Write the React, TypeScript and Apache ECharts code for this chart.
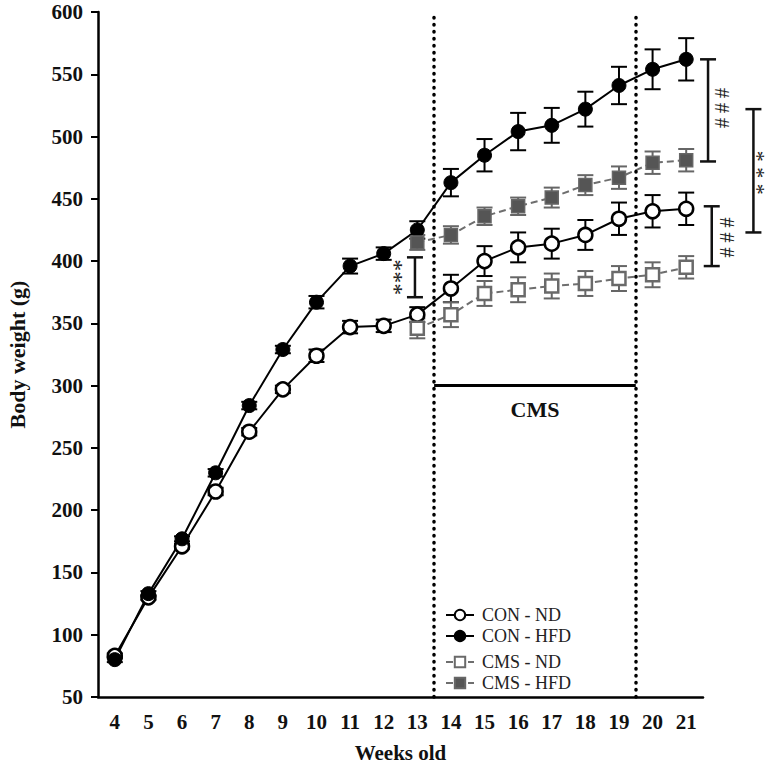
import React, { useEffect, useRef } from "react";
import * as echarts from "echarts";

const weeks = [4, 5, 6, 7, 8, 9, 10, 11, 12, 13, 14, 15, 16, 17, 18, 19, 20, 21];
const weekLabels = weeks.map(String);

const conND = [83, 130, 171, 215, 263, 297, 324, 347, 348, 357, 378, 400, 411, 414, 421, 434, 440, 442];
const conNDErr = [2, 2, 2, 3, 3, 3, 5, 5, 5, 6, 11, 12, 12, 12, 12, 13, 13, 13];
const conHFD = [80, 133, 177, 230, 284, 329, 367, 396, 406, 425, 463, 485, 504, 509, 522, 541, 554, 562];
const conHFDErr = [2, 2, 2, 3, 3, 3, 5, 6, 5, 7, 11, 13, 15, 14, 14, 15, 16, 17];

const cmsWeeks = [13, 14, 15, 16, 17, 18, 19, 20, 21];
const cmsND = [346, 357, 374, 377, 380, 382, 386, 389, 395];
const cmsNDErr = [8, 10, 10, 10, 10, 10, 10, 10, 9];
const cmsHFD = [415, 421, 436, 444, 451, 461, 467, 479, 481];
const cmsHFDErr = [6, 7, 7, 7, 8, 8, 9, 9, 9];

const yTicks = { min: 50, max: 600, interval: 50 };
const cmsStart = 13.5;
const cmsEnd = 19.5;
const cmsBarValue = 300;

// significance brackets (data coordinates)
const brackets = [
  { x: 21.65, lo: 480, hi: 562, text: "# # #", tx: 22.07, ty: 523, size: 20 },
  { x: 23.0, lo: 423, hi: 522, text: "* * *", tx: 23.13, ty: 471, size: 22 },
  { x: 21.76, lo: 396, hi: 444, text: "# # #", tx: 22.21, ty: 419, size: 20 },
  { x: 12.93, lo: 371, hi: 403, text: "***", tx: 12.34, ty: 387, size: 24 },
];
const cmsLabel = { x: 16.5, y: 281, text: "CMS" };

const FONT = "Liberation Serif";

function App() {
  const ref = useRef<HTMLDivElement>(null);
  useEffect(() => {
    if (!ref.current) return;
    const chart = echarts.init(ref.current, null, { renderer: "svg" });

    const pair = (xs: number[], ys: number[]) => xs.map((x, i) => [x, ys[i]]);
    const triple = (xs: number[], ys: number[], es: number[]) => xs.map((x, i) => [x, ys[i], es[i]]);

    const errSeries = (name: string, data: number[][], color: string) => ({
      type: "custom",
      name: name + "-err",
      xAxisIndex: 1,
      z: 1,
      silent: true,
      data,
      encode: { x: 0, y: 1 },
      renderItem: (params: any, api: any) => {
        const x = api.value(0);
        const y = api.value(1);
        const e = api.value(2);
        const p1 = api.coord([x, y + e]);
        const p2 = api.coord([x, y - e]);
        const hw = 8;
        const st = { stroke: color, lineWidth: 2 };
        return {
          type: "group",
          children: [
            { type: "line", shape: { x1: p1[0], y1: p1[1], x2: p2[0], y2: p2[1] }, style: st },
            { type: "line", shape: { x1: p1[0] - hw, y1: p1[1], x2: p1[0] + hw, y2: p1[1] }, style: st },
            { type: "line", shape: { x1: p2[0] - hw, y1: p2[1], x2: p2[0] + hw, y2: p2[1] }, style: st },
          ],
        };
      },
    });

    const legendCommon = {
      orient: "vertical",
      left: 440,
      itemGap: 3,
      itemWidth: 28,
      itemHeight: 13,
      textStyle: { fontFamily: FONT, fontSize: 18, color: "#222", padding: [0, 0, 0, 3] },
      selectedMode: false,
    };

    const option: any = {
      animation: false,
      backgroundColor: "#fff",
      grid: { left: 98, right: 67, top: 12, bottom: 69, containLabel: false, outerBoundsMode: "none" },
      legend: [
        { ...legendCommon, data: ["CON - ND", "CON - HFD"], top: 601 },
        { ...legendCommon, data: ["CMS - ND", "CMS - HFD"], top: 648 },
      ],
      xAxis: [
        {
          type: "category",
          data: weekLabels,
          boundaryGap: true,
          name: "Weeks old",
          nameLocation: "middle",
          nameGap: 45,
          nameTextStyle: { fontFamily: FONT, fontSize: 21, fontWeight: "bold", color: "#111" },
          axisLine: { lineStyle: { color: "#000", width: 2.5 } },
          axisTick: { alignWithLabel: true, length: 7, lineStyle: { color: "#000", width: 2 } },
          axisLabel: { fontFamily: FONT, fontSize: 21, fontWeight: "bold", color: "#111", margin: 14 },
          splitLine: { show: false },
        },
        {
          type: "value",
          min: 3.5,
          max: 21.5,
          show: false,
          splitLine: { show: false },
        },
      ],
      yAxis: {
        type: "value",
        min: yTicks.min,
        max: yTicks.max,
        interval: yTicks.interval,
        name: "Body weight (g)",
        nameLocation: "middle",
        nameGap: 70,
        nameTextStyle: { fontFamily: FONT, fontSize: 22, fontWeight: "bold", color: "#111" },
        axisLine: { show: true, lineStyle: { color: "#000", width: 2.5 } },
        axisTick: { show: true, length: 7, lineStyle: { color: "#000", width: 2 } },
        axisLabel: { fontFamily: FONT, fontSize: 21, fontWeight: "bold", color: "#111", margin: 15 },
        splitLine: { show: false },
      },
      series: [
        errSeries("CON - ND", triple(weeks, conND, conNDErr), "#000"),
        errSeries("CON - HFD", triple(weeks, conHFD, conHFDErr), "#000"),
        errSeries("CMS - ND", triple(cmsWeeks, cmsND, cmsNDErr), "#666"),
        errSeries("CMS - HFD", triple(cmsWeeks, cmsHFD, cmsHFDErr), "#666"),
        {
          type: "line",
          name: "CON - ND",
          xAxisIndex: 1,
          data: pair(weeks, conND),
          symbol: "circle",
          symbolSize: 14,
          z: 3,
          lineStyle: { color: "#000", width: 2 },
          itemStyle: { color: "#fff", borderColor: "#000", borderWidth: 2.5 },
          markLine: {
            silent: true,
            symbol: "none",
            label: { show: false },
            data: [
              { xAxis: cmsStart, lineStyle: { color: "#000", width: 3.5, type: [0.5, 6.5], cap: "round" } },
              { xAxis: cmsEnd, lineStyle: { color: "#000", width: 3.5, type: [0.5, 6.5], cap: "round" } },
              [
                { coord: [cmsStart, cmsBarValue], lineStyle: { color: "#000", width: 3, type: "solid" } },
                { coord: [cmsEnd, cmsBarValue] },
              ],
            ],
          },
        },
        {
          type: "line",
          name: "CON - HFD",
          xAxisIndex: 1,
          data: pair(weeks, conHFD),
          symbol: "circle",
          symbolSize: 14,
          z: 3,
          lineStyle: { color: "#000", width: 2 },
          itemStyle: { color: "#000", borderColor: "#000", borderWidth: 1 },
        },
        {
          type: "line",
          name: "CMS - ND",
          xAxisIndex: 1,
          data: pair(cmsWeeks, cmsND),
          symbol: "rect",
          symbolSize: 13,
          z: 4,
          lineStyle: { color: "#6e6e6e", width: 2, type: [7, 4] },
          itemStyle: { color: "#fff", borderColor: "#6a6a6a", borderWidth: 2.5 },
        },
        {
          type: "line",
          name: "CMS - HFD",
          xAxisIndex: 1,
          data: pair(cmsWeeks, cmsHFD),
          symbol: "rect",
          symbolSize: 13,
          z: 4,
          lineStyle: { color: "#6e6e6e", width: 2, type: [7, 4] },
          itemStyle: { color: "#555", borderColor: "#666", borderWidth: 1.5 },
        },
        {
          type: "custom",
          name: "brackets",
          xAxisIndex: 1,
          silent: true,
          clip: false,
          z: 5,
          data: brackets.map((b) => [b.x, b.lo, b.hi]),
          encode: { x: 0, y: [1, 2] },
          renderItem: (params: any, api: any) => {
            const b = brackets[params.dataIndex];
            const top = api.coord([b.x, b.hi]);
            const bot = api.coord([b.x, b.lo]);
            const t = api.coord([b.tx, b.ty]);
            const hw = 8;
            const st = { stroke: "#111", lineWidth: 2.5 };
            return {
              type: "group",
              children: [
                { type: "line", shape: { x1: top[0], y1: top[1], x2: bot[0], y2: bot[1] }, style: st },
                { type: "line", shape: { x1: top[0] - hw, y1: top[1], x2: top[0] + hw, y2: top[1] }, style: st },
                { type: "line", shape: { x1: bot[0] - hw, y1: bot[1], x2: bot[0] + hw, y2: bot[1] }, style: st },
                {
                  type: "text",
                  x: t[0],
                  y: t[1],
                  rotation: -Math.PI / 2,
                  style: {
                    text: b.text,
                    fontFamily: FONT,
                    fontSize: b.size,
                    fill: "#222",
                    align: "center",
                    verticalAlign: "middle",
                  },
                },
              ],
            };
          },
        },
        {
          type: "custom",
          name: "cmsLabel",
          xAxisIndex: 1,
          silent: true,
          clip: false,
          z: 5,
          data: [[cmsLabel.x, cmsLabel.y]],
          encode: { x: 0, y: 1 },
          renderItem: (params: any, api: any) => {
            const p = api.coord([api.value(0), api.value(1)]);
            return {
              type: "text",
              x: p[0],
              y: p[1],
              style: {
                text: cmsLabel.text,
                fontFamily: FONT,
                fontSize: 22,
                fontWeight: "bold",
                fill: "#111",
                align: "center",
                verticalAlign: "middle",
              },
            };
          },
        },
      ],
    };
    chart.setOption(option);
    return () => chart.dispose();
  }, []);
  return <div ref={ref} style={{ position: "fixed", left: 0, top: 0, width: 770, height: 766 }} />;
}

export default App;
